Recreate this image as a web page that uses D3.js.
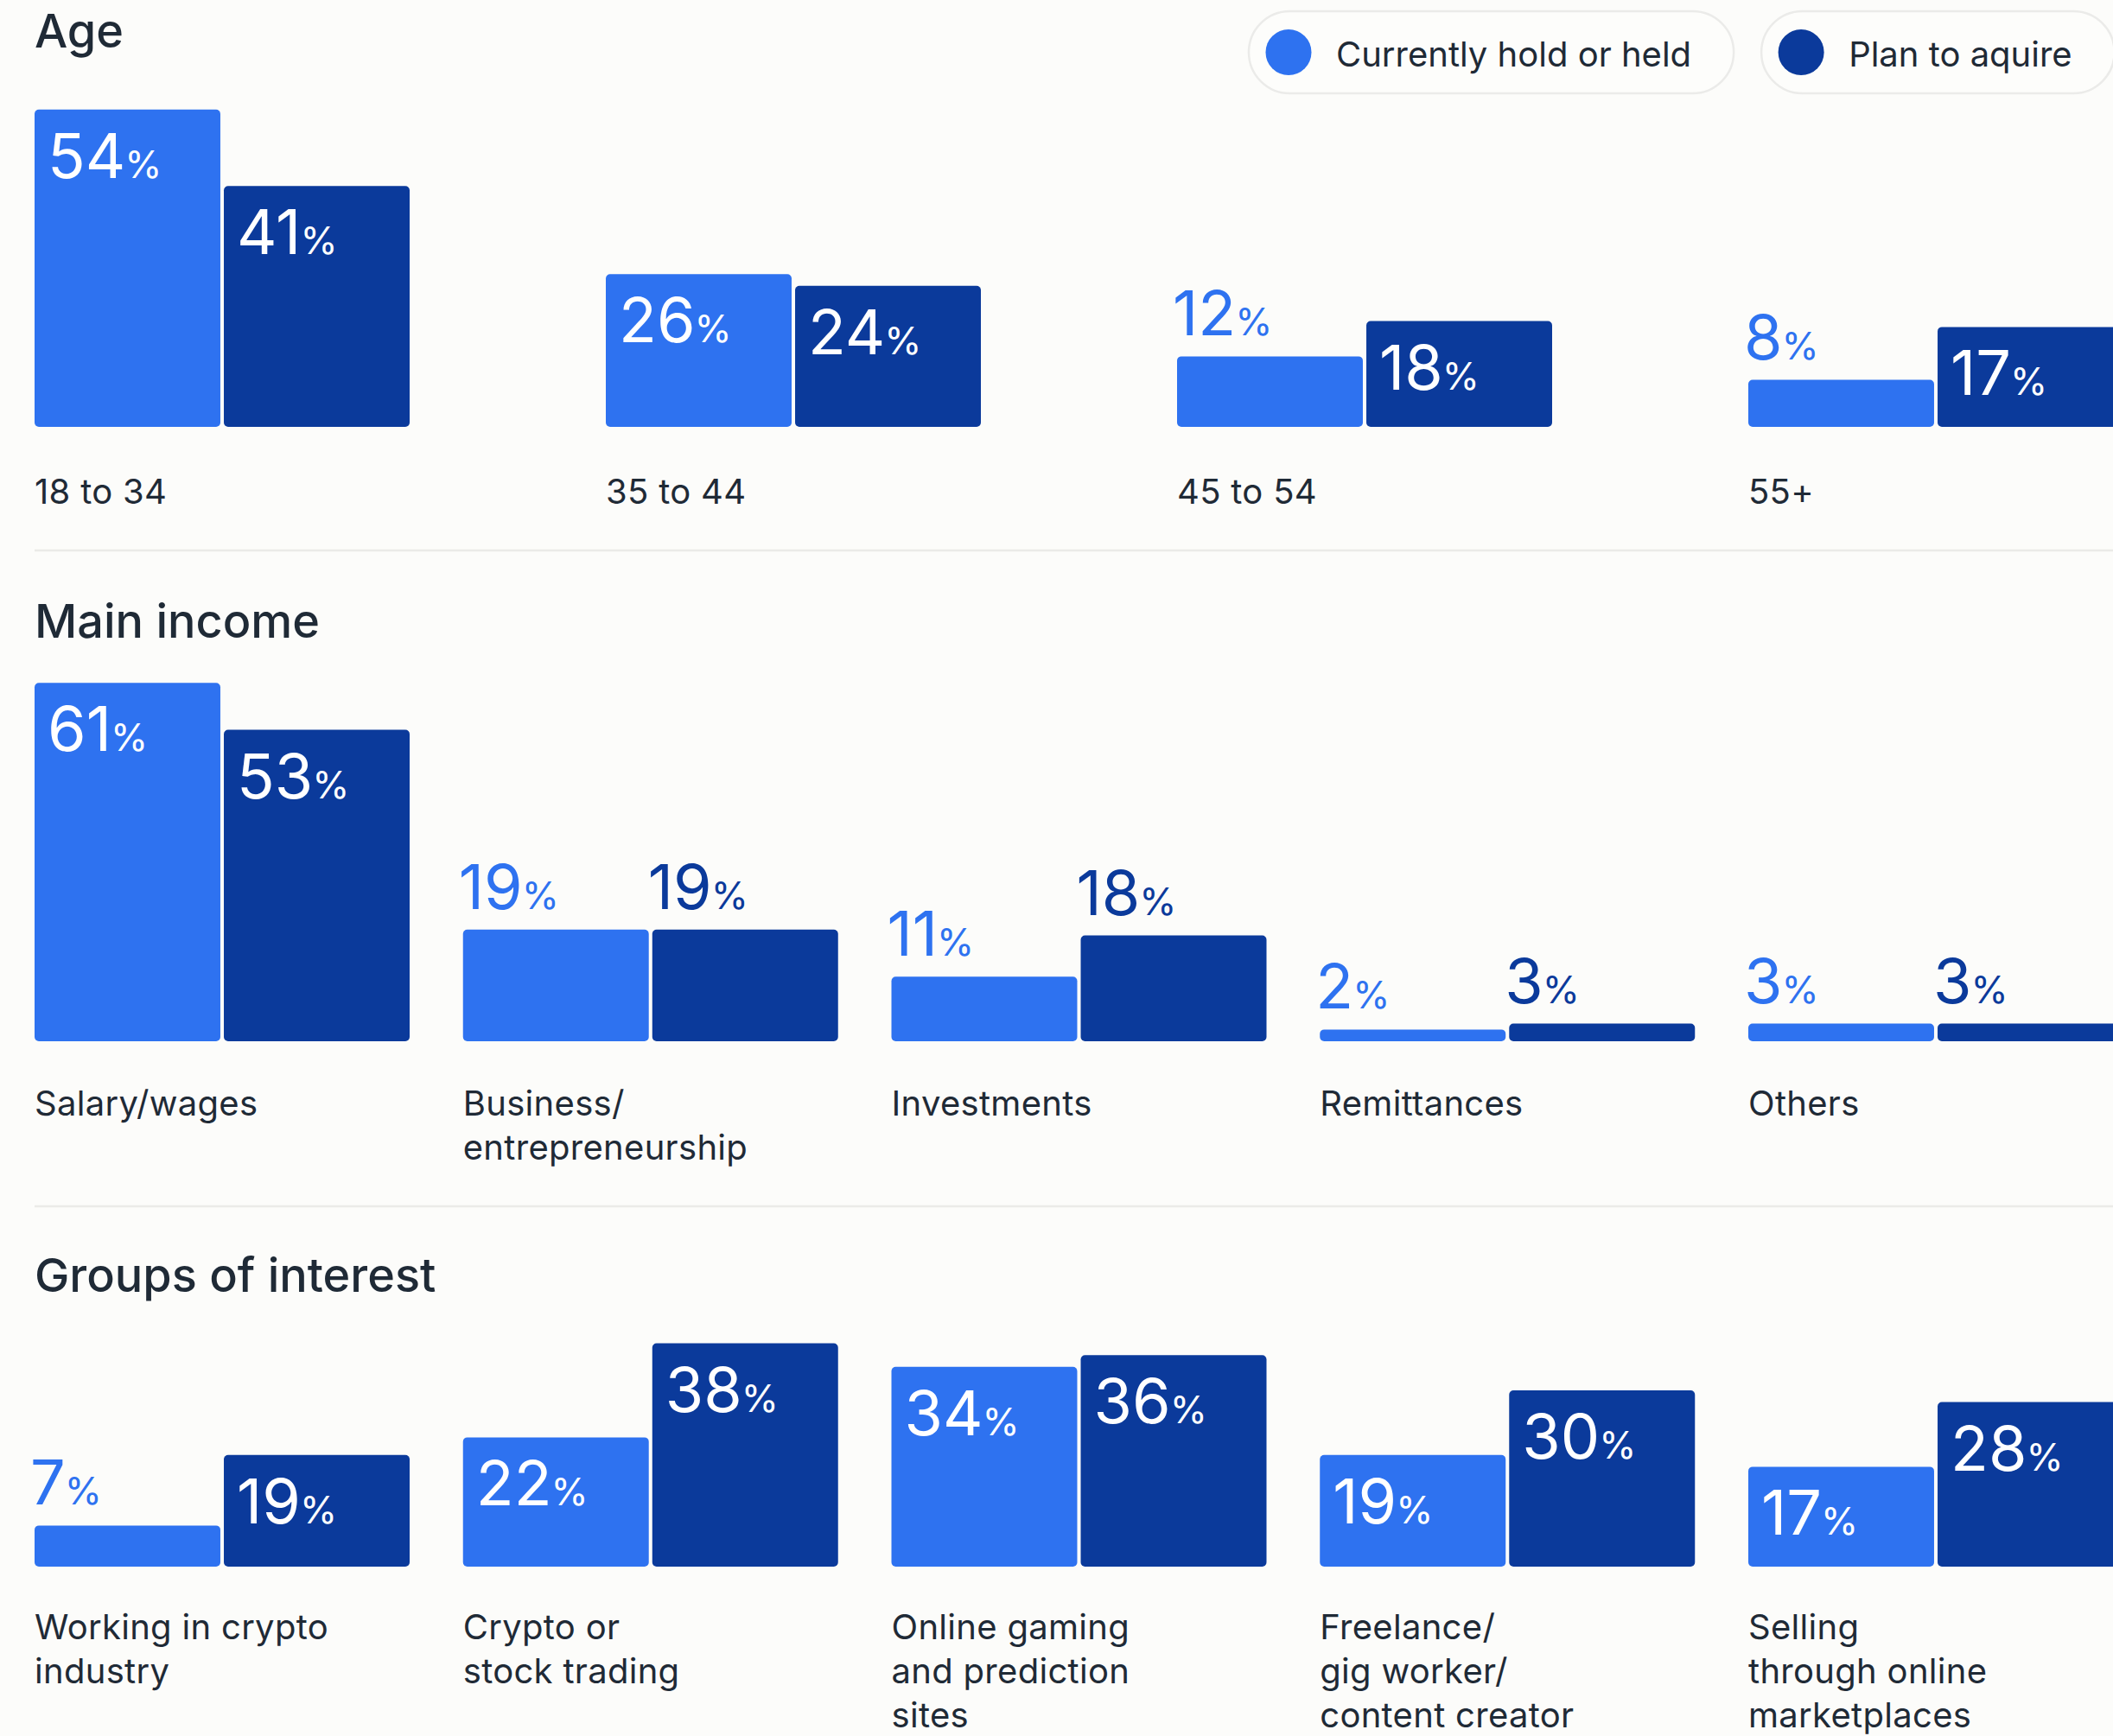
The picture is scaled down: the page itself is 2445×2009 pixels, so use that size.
<!DOCTYPE html>
<html>
<head>
<meta charset="utf-8">
<script src="https://cdn.jsdelivr.net/npm/d3@7"></script>
<style>
  html, body { margin: 0; padding: 0; background: #fcfcfa; }
  svg { display: block; font-family: Inter, "Noto Sans", sans-serif; }
</style>
</head>
<body>
<svg id="chart" width="2445" height="2009"></svg>
<script>
// ---- data ----
const seriesNames = ["Currently hold or held", "Plan to aquire"];
const seriesColors = ["#2e72f0", "#0b3a9b"];

const sectionTitles = ["Age", "Main income", "Groups of interest"];

const ageCategories = ["18 to 34", "35 to 44", "45 to 54", "55+"];
const ageHeld = [54, 26, 12, 8];
const agePlan = [41, 24, 18, 17];

const incomeCategories = ["Salary/wages", "Business/\nentrepreneurship", "Investments", "Remittances", "Others"];
const incomeHeld = [61, 19, 11, 2, 3];
const incomePlan = [53, 19, 18, 3, 3];

const groupCategories = [
  "Working in crypto\nindustry",
  "Crypto or\nstock trading",
  "Online gaming\nand prediction\nsites",
  "Freelance/\ngig worker/\ncontent creator",
  "Selling\nthrough online\nmarketplaces"
];
const groupHeld = [7, 22, 34, 19, 17];
const groupPlan = [19, 38, 36, 30, 28];

// ---- layout ----
const svg = d3.select("#chart");
const left = 40, right = 2457;
const groupWidth = 434;
const textColor = "#1f2a36";

const height = d3.scaleLinear().domain([0, 100]).range([0, 680]);
const inner = d3.scaleBand().domain([0, 1]).range([0, groupWidth]).paddingInner(0.0185);

const sections = [
  { title: sectionTitles[0], cats: ageCategories, values: [ageHeld, agePlan],
    titleY: 55, baseY: 494, labelY: 583, insideMin: 15, dividerY: 637 },
  { title: sectionTitles[1], cats: incomeCategories, values: [incomeHeld, incomePlan],
    titleY: 738, baseY: 1205, labelY: 1291, insideMin: 20, dividerY: 1396 },
  { title: sectionTitles[2], cats: groupCategories, values: [groupHeld, groupPlan],
    titleY: 1495, baseY: 1813, labelY: 1897, insideMin: 15, dividerY: null }
];

sections.forEach(sec => {
  const g = svg.append("g");

  g.append("text")
    .attr("x", left).attr("y", sec.titleY)
    .attr("font-size", 54).attr("font-weight", 500)
    .attr("fill", textColor)
    .text(sec.title);

  const x0 = d3.scalePoint().domain(sec.cats).range([left, right - groupWidth]).padding(0);

  const rows = sec.cats.flatMap((c, i) => [0, 1].map(s => ({ cat: c, s, v: sec.values[s][i] })));

  const grp = g.selectAll("g.cat").data(sec.cats).join("g")
    .attr("class", "cat")
    .attr("transform", d => `translate(${x0(d)},0)`);

  grp.selectAll("rect").data(c => rows.filter(r => r.cat === c)).join("rect")
    .attr("x", d => inner(d.s))
    .attr("width", inner.bandwidth())
    .attr("y", d => sec.baseY - height(d.v))
    .attr("height", d => height(d.v))
    .attr("rx", 5).attr("ry", 5)
    .attr("fill", d => seriesColors[d.s]);

  const lab = grp.selectAll("text.val").data(c => rows.filter(r => r.cat === c)).join("text")
    .attr("class", "val")
    .attr("x", d => inner(d.s) + (d.v >= sec.insideMin ? 15 : -5))
    .attr("y", d => d.v >= sec.insideMin ? sec.baseY - height(d.v) + 79 : sec.baseY - height(d.v) - 24)
    .attr("fill", d => d.v >= sec.insideMin ? "#ffffff" : seriesColors[d.s]);
  lab.append("tspan").attr("font-size", 72).text(d => d.v);
  lab.append("tspan").attr("font-size", 44).attr("dx", -1).text("%");

  const cl = grp.append("text")
    .attr("x", 0).attr("y", sec.labelY)
    .attr("font-size", 40).attr("letter-spacing", 0.3).attr("fill", textColor);
  cl.selectAll("tspan").data(c => c.split("\n")).join("tspan")
    .attr("x", 0).attr("dy", (d, i) => i === 0 ? 0 : 51)
    .text(d => d);

  if (sec.dividerY !== null) {
    g.append("line")
      .attr("x1", left).attr("x2", 2445)
      .attr("y1", sec.dividerY).attr("y2", sec.dividerY)
      .attr("stroke", "#ebebe8").attr("stroke-width", 2.5);
  }
});

// ---- legend ----
const legend = svg.append("g");
let lx = 1445;
seriesNames.forEach((name, i) => {
  const item = legend.append("g").attr("transform", `translate(${lx},13)`);
  const pill = item.append("rect")
    .attr("y", 0).attr("height", 95).attr("rx", 47.5).attr("ry", 47.5)
    .attr("fill", "#fdfdfb").attr("stroke", "#ebebe9").attr("stroke-width", 2.5);
  item.append("circle").attr("cx", 46).attr("cy", 47.5).attr("r", 26.5).attr("fill", seriesColors[i]);
  const t = item.append("text").attr("x", 101).attr("y", 64)
    .attr("font-size", 40).attr("fill", textColor).text(name);
  const w = 101 + t.node().getComputedTextLength() + 49;
  pill.attr("width", w);
  lx += w + 32;
});
</script>
</body>
</html>
